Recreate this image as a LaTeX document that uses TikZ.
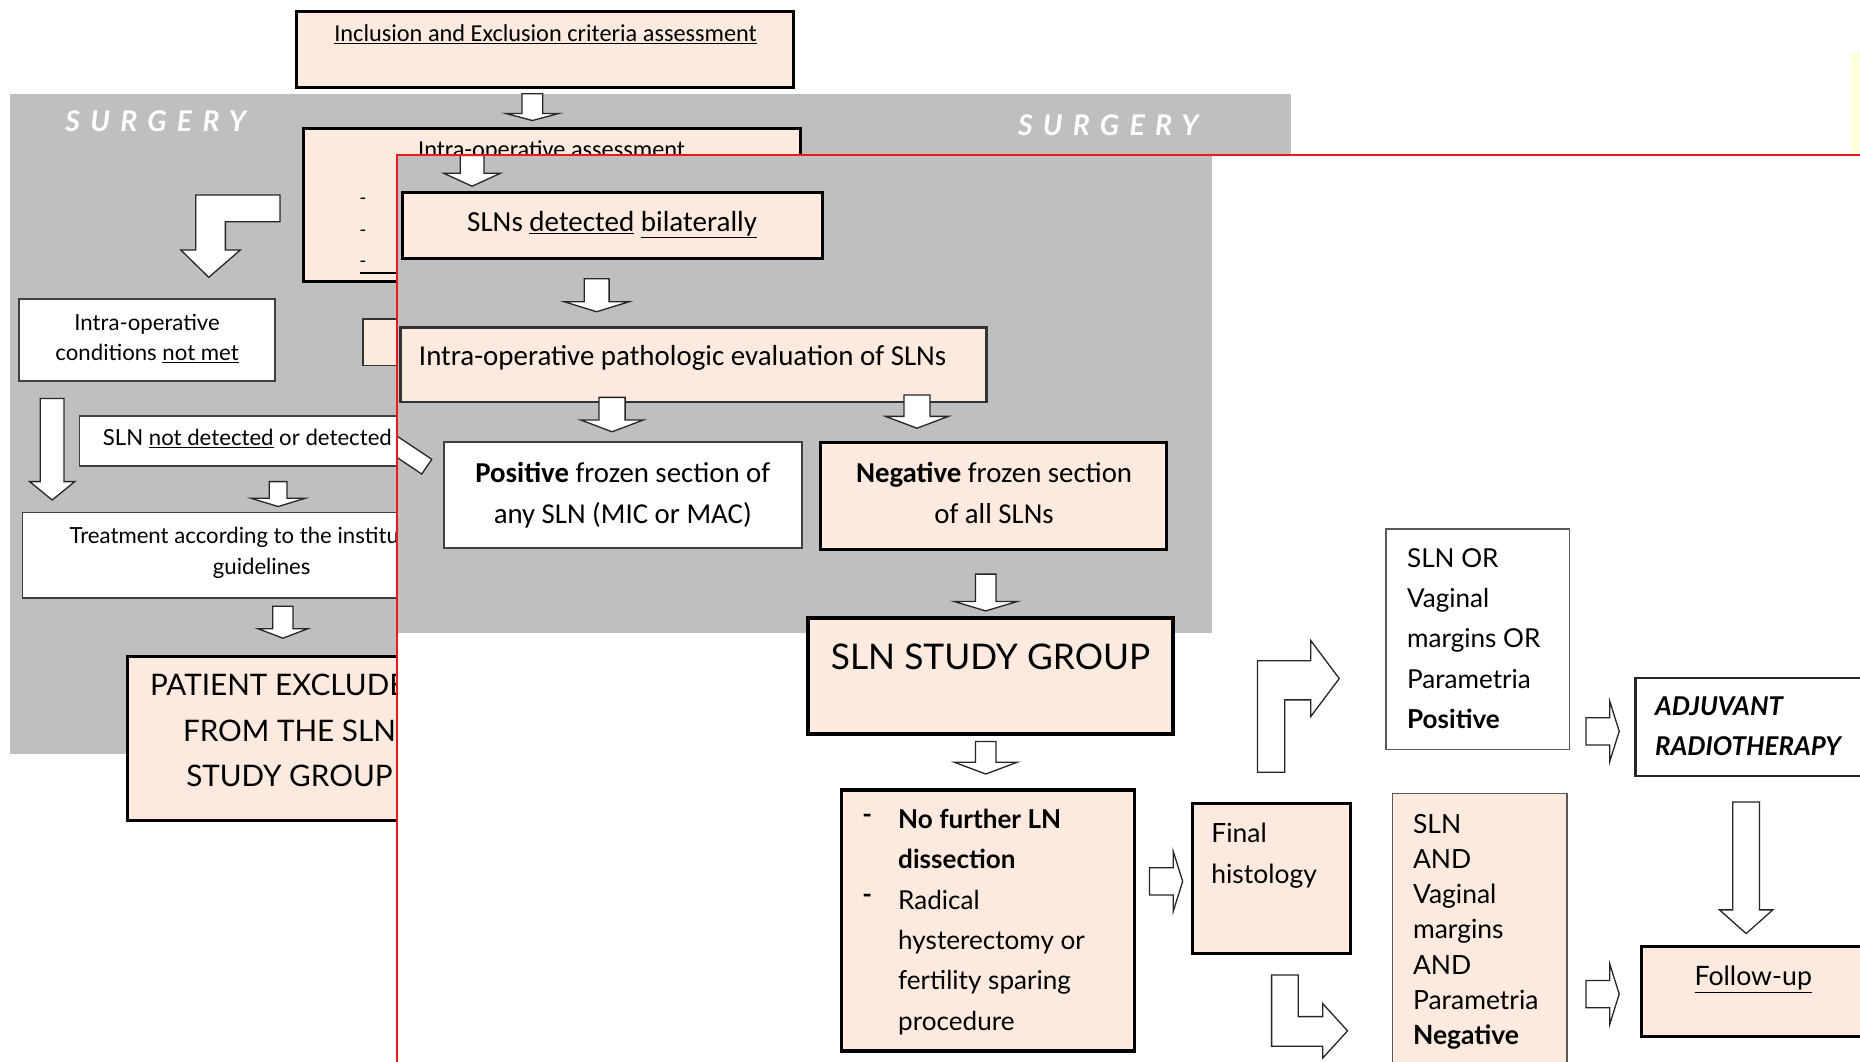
\documentclass[tikz,border=0pt]{standalone}
\usepackage{fontspec}
\setmainfont{Lato}
\newfontfamily\calib{Carlito}
\newfontfamily\spaced[LetterSpace=36]{Lato}
\newcommand\uln[1]{\underline{#1}}

\definecolor{peach}{RGB}{251,234,221}
\definecolor{panelgray}{RGB}{191,191,191}
\definecolor{framered}{RGB}{235,25,25}
\definecolor{sliver}{RGB}{255,255,221}

\tikzset{
  pbox/.style={draw=black, fill=peach, line width=2.6pt},
  tbox/.style={draw=black!80, fill=peach, line width=1.4pt},
  wbox/.style={draw=black!75, fill=white, line width=1.3pt},
  blk/.style={draw=black!85, fill=white, line width=1.1pt, line join=miter},
  txt/.style 2 args={font=\fontsize{#1}{#2}\selectfont, inner sep=0pt},
  ctxt/.style 2 args={font=\calib\fontsize{#1}{#2}\selectfont, inner sep=0pt},
  pics/darr/.style n args={4}{code={
    \draw[blk] (-#1,0) -- (#1,0) -- (#1,#2) -- (#3,#2) -- (0,#2+#4) -- (-#3,#2) -- (-#1,#2) -- cycle;
  }}
}

\begin{document}
\begin{tikzpicture}[x=1pt, y=-1pt]
    \useasboundingbox (0,0) rectangle (1568,895);
    \fill[white] (0,0) rectangle (1568,895);

    % first chart, behind
    \fill[panelgray] (8.5,79) rectangle (1088,635.5);
    \node[text=white, inner sep=0pt, anchor=north west, font=\spaced\bfseries\itshape\fontsize{24}{28}\selectfont] (surgL) at (55,93.5) {SURGERY};
    \node[text=white, inner sep=0pt, anchor=north west, font=\spaced\bfseries\itshape\fontsize{24}{28}\selectfont] (surgR) at (858,96.5) {SURGERY};

    \node[pbox, minimum width=419pt, minimum height=64pt] (incl) at (459.5,42) {};
    \node[pbox, minimum width=419pt, minimum height=129pt] (intra) at (465.5,172.5) {};
    \node[wbox, minimum width=216pt, minimum height=69pt] (notmet) at (124,286.5) {};
    \node[tbox, minimum width=39pt, minimum height=39pt] (small) at (325.5,288.5) {};
    \node[wbox, minimum width=333pt, minimum height=42.5pt] (notdet) at (233.5,371.75) {};
    \node[wbox, minimum width=381pt, minimum height=72pt] (treat) at (209.5,468) {};
    \node[pbox, minimum width=273.5pt, minimum height=138.5pt] (patient) at (244.25,622.75) {};

    \node[ctxt={20.5}{24}, anchor=north] (inclT) at (460,20.8) {\uln{Inclusion and Exclusion criteria assessment}};
    \node[ctxt={20.5}{24}, anchor=north] (intraT) at (465,118.8) {Intra-operative assessment};
    \foreach \i/\y in {1/170,2/196.5,3/222.5}
        \node[txt={16}{20}] (dash\i) at (306,\y) {-};
    \draw[line width=1.2pt] (303.5,230) -- (345,230);
    \node[txt={18.7}{25.5}, align=center, anchor=north] (notmetT) at (124,264.3) {Intra-operative\\conditions \uln{not met}};
    \node[txt={18.7}{22}, anchor=north west] (notdetT) at (86.5,361.3) {SLN \uln{not detected} or detected};
    \node[txt={18.7}{26}, align=center, anchor=north] (treatT) at (220.6,444.3) {Treatment according to the institutional\\guidelines};
    \node[txt={25}{38.3}, align=center, anchor=north] (patientT) at (244,568.4) {PATIENT EXCLUDED\\FROM THE SLN\\STUDY GROUP};

    \foreach \x/\y/\a/\b/\c/\d in {448.75/79/8.75/16.6/22.5/6, 44/336/10/70/19/15.5, 234.5/406/7.5/14/23/7, 238.5/511/8.5/19/21/8}
        \pic at (\x,\y) {darr={\a}{\b}{\c}{\d}};
    \draw[blk] (165,164.4) -- (236,164.4) -- (236,187) -- (190,187) -- (190,210.8) -- (202.5,210.8)
        -- (176,233.8) -- (152.5,210.8) -- (165,210.8) -- cycle;

    % second chart, in front
    \fill[white] (334.5,131) rectangle (1570,897);
    \fill[panelgray] (334.5,131) rectangle (1022,533.5);
    \draw[blk] (334.5,367.5) -- (364,387.2) -- (355.5,399.6) -- (334.5,385.5);

    \node[pbox, minimum width=354pt, minimum height=56pt] (slns) at (516,190) {};
    \node[tbox, line width=2pt, minimum width=494pt, minimum height=63pt] (path) at (584.5,307.5) {};
    \node[wbox, line width=2pt, minimum width=301.5pt, minimum height=89.5pt] (pos) at (525.25,417.25) {};
    \node[pbox, minimum width=291pt, minimum height=90pt] (neg) at (837.5,418) {};
    \node[pbox, line width=3.4pt, minimum width=308pt, minimum height=98pt] (study) at (835,570) {};
    \node[pbox, minimum width=247pt, minimum height=220pt] (list) at (832.5,776) {};
    \node[pbox, minimum width=133.5pt, minimum height=126.5pt] (final) at (1071.75,740.75) {};
    \node[wbox, draw=black!65, minimum width=154.5pt, minimum height=186pt] (posres) at (1245.75,539) {};
    \node[tbox, draw=black!65, minimum width=147pt, minimum height=236pt] (negres) at (1247.5,787) {};
    \node[wbox, draw=black!85, line width=1.8pt, minimum width=201.3pt, minimum height=82.8pt] (adj) at (1479.35,613) {};
    \node[pbox, minimum width=196.6pt, minimum height=76pt] (follow) at (1481.7,836) {};

    \node[ctxt={24.5}{28}, anchor=north] (slnsT) at (516,177.8) {SLNs \uln{detected} \uln{bilaterally}};
    \node[ctxt={24.4}{28}, anchor=north west] (pathT) at (353,290.8) {Intra-operative pathologic evaluation of SLNs};
    \node[ctxt={24.3}{34}, align=center, anchor=north] (posT) at (525,389.8) {\textbf{Positive} frozen section of\\any SLN (MIC or MAC)};
    \node[ctxt={24.3}{34}, align=center, anchor=north] (negT) at (838,389.8) {\textbf{Negative} frozen section\\of all SLNs};
    \node[txt={29.8}{34}, anchor=north] (studyT) at (835,542.3) {SLN STUDY GROUP};
    \node[txt={22}{34}, align=left, anchor=north west] (listT) at (757,682) {\textbf{No further LN}\\\textbf{dissection}\\Radical\\hysterectomy or\\fertility sparing\\procedure};
    \node[txt={22}{24}] (listD1) at (731,690) {\textbf{-}};
    \node[txt={22}{24}] (listD2) at (731,758) {\textbf{-}};
    \node[txt={22.3}{34}, align=left, anchor=north west] (finalT) at (1021,694) {Final\\histology};
    \node[txt={22}{34}, align=left, anchor=north west] (posresT) at (1186,462) {SLN OR\\Vaginal\\margins OR\\Parametria\\\textbf{Positive}};
    \node[txt={22.3}{29.7}, align=left, anchor=north west] (negresT) at (1191,686) {SLN\\AND\\Vaginal\\margins\\AND\\Parametria\\\textbf{Negative}};
    \node[inner sep=0pt, align=left, anchor=north west, font=\bfseries\itshape\fontsize{21.8}{33.6}\selectfont] (adjT) at (1395,587.3) {ADJUVANT\\RADIOTHERAPY};
    \node[txt={22.5}{24}, anchor=north] (followT) at (1478,814.3) {\uln{Follow-up}};

    \foreach \x/\y/\a/\b/\c/\d in {398/131/10/15/24/11, 503/235/10.5/19.3/27.5/8.5, 516/335/11/19/26.5/10,
        773/333/11/18/26.5/10, 831/484/8.6/23/26.7/8, 831/625/8.6/17.5/26.7/10, 1472/676/11.3/91/22.5/20}
        \pic at (\x,\y) {darr={\a}{\b}{\c}{\d}};
    \foreach \x/\y in {969/743, 1337/616.5, 1337/838}
        \pic[rotate=90] at (\x,\y) {darr={11.5}{20}{25.5}{8}};
    \draw[blk] (1060,651) -- (1060,557) -- (1105,557) -- (1105,540) -- (1129,572) -- (1105,604)
        -- (1105,590) -- (1083,590) -- (1083,651) -- cycle;
    \draw[blk] (1072,822) -- (1094.5,822) -- (1094.5,857) -- (1115,857) -- (1115,846) -- (1136,869)
        -- (1115,892) -- (1115,882) -- (1072,882) -- cycle;

    \draw[framered, line width=1.6pt] (334.5,897) -- (334.5,131) -- (1570,131);
    \fill[sliver] (1560.5,45) rectangle (1568,130);
\end{tikzpicture}
\end{document}
